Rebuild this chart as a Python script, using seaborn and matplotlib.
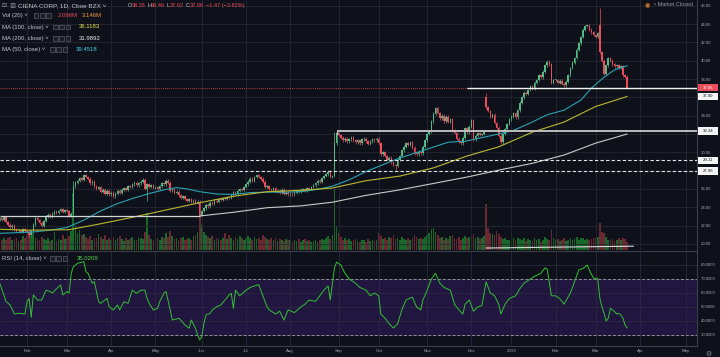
import numpy as np
import pandas as pd
import matplotlib
matplotlib.use('Agg')
import matplotlib.pyplot as plt
from matplotlib.patches import Rectangle
import seaborn as sns

# CIEN daily closes, one list per month (Jan 12 2018 .. Mar 22 2019)
close_jan18 = [22.8, 22.6, 22.9, 22.4, 22.1, 21.8, 22.0, 21.6, 21.4, 21.5, 21.3, 21.6, 21.4]
close_feb18 = [21.3, 21.0, 21.4, 22.1, 22.8, 22.6, 22.3, 22.0, 22.5, 23.0, 23.2, 23.0, 23.3, 23.5, 23.4, 23.6, 23.8, 23.5, 23.7]
close_mar18 = [23.6, 23.1, 23.3, 26.3, 26.7, 26.9, 27.2, 27.0, 27.5, 27.3, 27.1, 26.6, 26.8, 26.3, 26.0, 26.2, 25.7, 25.9, 25.5, 25.8, 25.4]
close_apr18 = [25.6, 25.2, 25.5, 25.8, 25.6, 25.9, 26.1, 25.9, 26.3, 26.2, 26.5, 26.7, 26.4, 26.6, 26.8, 27.0, 26.0, 26.5, 26.2, 26.4, 26.1]
close_may18 = [26.2, 26.0, 26.3, 26.6, 26.5, 26.9, 26.7, 25.8, 26.0, 25.6, 25.7, 25.3, 25.0, 25.2, 24.9, 24.7, 24.9, 24.6, 24.7, 24.5, 24.6, 23.2]
close_jun18 = [23.6, 23.9, 24.3, 24.1, 24.5, 24.4, 24.7, 24.6, 24.9, 24.8, 25.0, 24.9, 25.1, 25.0, 25.3, 25.6, 25.4, 25.8, 26.0, 25.9, 26.2]
close_jul18 = [26.5, 26.8, 27.1, 26.9, 27.3, 27.5, 27.3, 27.1, 26.8, 26.2, 26.3, 26.0, 25.9, 26.1, 25.7, 25.8, 25.6, 25.9, 25.5, 25.6, 25.4]
close_aug18 = [25.5, 25.4, 25.6, 25.8, 25.7, 25.9, 26.0, 25.8, 26.1, 26.0, 26.2, 26.4, 26.6, 26.9, 26.8, 27.2, 27.4, 27.6, 27.9, 27.3, 27.4, 31.0, 32.1]
close_sep18 = [31.9, 31.6, 31.3, 31.5, 31.2, 31.4, 31.6, 31.3, 31.1, 31.3, 31.0, 31.4, 31.5, 31.2, 30.9, 31.2, 31.4, 31.3, 31.5]
close_oct18 = [31.0, 29.8, 30.0, 29.6, 29.2, 29.4, 28.9, 28.6, 28.5, 29.2, 29.6, 30.2, 30.6, 31.0, 30.8, 31.1, 30.5, 29.9, 29.8, 30.0, 29.9, 30.6, 31.3]
close_nov18 = [32.0, 32.3, 33.4, 34.2, 34.8, 34.3, 33.7, 34.0, 33.4, 33.9, 33.3, 33.6, 32.4, 32.1, 31.5, 31.2, 31.0, 31.6, 32.6, 32.2, 32.8]
close_dec18 = [33.5, 31.4, 31.8, 32.1, 31.9, 32.0, 32.3, 34.9, 34.5, 33.9, 34.1, 33.2, 32.7, 31.8, 31.1, 32.0, 32.5, 33.1, 33.6]
close_jan19 = [33.9, 34.3, 33.8, 34.6, 35.4, 36.0, 36.5, 36.4, 36.8, 37.2, 37.0, 37.6, 37.9, 38.4, 38.2, 38.8, 39.5, 39.9, 39.6, 37.6, 37.9]
close_feb19 = [37.9, 37.6, 37.8, 37.5, 37.3, 37.7, 38.4, 39.2, 39.8, 40.3, 41.2, 41.9, 42.6, 43.4, 43.8, 43.9, 43.4, 43.1, 42.8]
close_mar19 = [42.6, 43.0, 40.9, 40.0, 38.6, 39.5, 40.3, 40.0, 39.6, 39.4, 39.5, 39.2, 39.4, 38.4, 38.26, 37.06]

# volume in millions, same bars
vol_jan18 = [2.8, 2.5, 3.1, 2.6, 2.9, 3.3, 2.4, 2.7, 3.0, 2.2, 2.6, 3.4, 2.9]
vol_feb18 = [3.8, 4.6, 3.5, 4.2, 3.1, 2.8, 2.5, 3.2, 2.7, 2.4, 2.9, 2.2, 2.6, 4.5, 2.3, 2.8, 2.5, 3.6, 2.7]
vol_mar18 = [2.9, 3.4, 4.8, 14.2, 6.1, 4.3, 4.9, 3.6, 3.9, 3.2, 2.8, 3.5, 2.6, 3.1, 2.9, 4.0, 3.3, 2.7, 3.6, 2.5, 3.0]
vol_apr18 = [2.6, 3.2, 2.4, 2.9, 3.5, 2.7, 2.2, 3.0, 2.5, 2.8, 3.3, 2.6, 2.4, 2.9, 3.1, 2.7, 4.4, 9.2, 3.6, 2.8, 2.5]
vol_may18 = [2.7, 3.0, 2.4, 3.3, 2.9, 4.1, 3.2, 4.6, 3.4, 2.8, 3.1, 2.6, 2.9, 3.3, 2.5, 2.7, 3.0, 2.6, 3.4, 3.8, 4.4, 8.6]
vol_jun18 = [6.2, 4.5, 3.8, 3.3, 2.9, 3.4, 2.6, 3.1, 2.8, 2.5, 3.0, 4.2, 2.7, 3.6, 2.9, 2.6, 3.2, 2.8, 3.5, 3.0, 2.6]
vol_jul18 = [2.9, 3.4, 3.1, 2.6, 3.3, 2.8, 3.0, 2.5, 3.7, 3.2, 2.7, 2.4, 2.9, 2.6, 3.1, 2.3, 2.8, 2.5, 2.2, 2.7, 2.4]
vol_aug18 = [2.5, 2.1, 2.6, 2.3, 2.8, 2.0, 2.4, 2.7, 2.2, 2.5, 1.9, 2.3, 2.6, 2.1, 2.4, 2.8, 2.5, 3.0, 3.4, 2.7, 3.8, 15.2, 5.8]
vol_sep18 = [4.1, 3.3, 2.6, 2.9, 2.4, 2.7, 2.2, 2.5, 2.8, 2.3, 2.1, 2.6, 2.4, 2.0, 2.7, 2.3, 2.5, 2.2, 2.6]
vol_oct18 = [4.2, 3.5, 2.8, 3.1, 2.6, 3.3, 2.9, 3.7, 2.7, 3.0, 2.6, 3.2, 2.8, 2.5, 2.9, 2.4, 3.1, 3.6, 3.2, 2.8, 3.0, 2.7, 3.3]
vol_nov18 = [3.6, 4.1, 5.2, 5.5, 4.4, 3.6, 2.9, 3.2, 2.6, 3.0, 2.7, 3.4, 3.8, 3.1, 2.8, 3.3, 2.6, 3.0, 3.5, 2.9, 3.2]
vol_dec18 = [3.6, 4.0, 3.1, 3.3, 2.7, 3.0, 3.4, 11.5, 5.5, 4.2, 4.0, 3.6, 4.8, 3.9, 3.2, 2.8, 3.1, 2.5, 2.4]
vol_jan19 = [2.6, 2.9, 2.4, 3.1, 2.8, 2.5, 3.0, 2.3, 2.7, 2.6, 2.2, 2.9, 2.4, 2.8, 2.1, 2.6, 3.2, 2.7, 2.5, 5.0, 3.0]
vol_feb19 = [2.4, 2.7, 2.2, 2.5, 2.9, 2.3, 2.6, 3.0, 2.4, 2.8, 3.2, 2.6, 2.9, 3.1, 2.5, 2.7, 2.4, 2.8, 3.0]
vol_mar19 = [2.9, 3.3, 6.8, 4.5, 4.3, 3.2, 2.6, 2.4, 2.8, 2.2, 2.5, 3.0, 2.6, 3.1, 2.7, 2.1]

first_bar = -13   # bar 0 = Feb 1 2018
gap_open = {-13: 22.6, 218: 36.0, 272: 43.9, 285: 38.26}
wick_high = {22: 26.9, 146: 32.2, 218: 36.5, 272: 45.7, 285: 38.46}
wick_low = {1: 20.8, 57: 24.7, 82: 23.0, 175: 28.1, 225: 30.9, 285: 37.02}

# moving averages as drawn (bar, value)
ma50_bar = [-13, 3, 11, 19, 27, 35, 43, 50, 58, 66, 71, 76, 82, 90, 98, 106, 114, 122, 130, 138,
            145, 153, 161, 176, 192, 200, 208, 216, 224, 231, 239, 247, 255, 263, 268, 274, 279, 285]
ma50_val = [21.15, 21.3, 21.5, 21.8, 22.6, 23.6, 24.4, 24.95, 25.5, 25.95, 26.15, 26.0, 25.7, 25.45, 25.4, 25.6, 25.65, 25.65, 25.7, 25.95,
            26.3, 27.0, 27.9, 29.3, 30.5, 31.1, 31.2, 31.6, 32.0, 32.4, 33.2, 34.1, 34.6, 35.7, 37.0, 38.2, 39.0, 39.45]
ma100_bar = [-13, 0, 20, 35, 50, 66, 82, 98, 114, 130, 145, 161, 177, 193, 209, 224, 232, 240, 255, 270, 285]
ma100_val = [21.6, 21.5, 21.55, 22.2, 22.9, 23.7, 24.5, 25.2, 25.7, 25.85, 26.1, 26.9, 27.4, 28.3, 29.6, 30.6, 31.4, 32.2, 33.3, 35.0, 36.1]
ma200_bar = [82, 98, 114, 130, 145, 161, 177, 193, 209, 225, 240, 255, 270, 285]
ma200_val = [23.05, 23.45, 23.95, 24.15, 24.55, 25.3, 25.9, 26.6, 27.3, 28.1, 28.8, 29.7, 31.0, 32.0]

# RSI(14) as drawn (bar, value)
rsi_bar = [-13, -12, -10, -8, -6, -4, -1, 0, 1, 2, 3, 5, 7, 9, 11, 12, 15, 16, 17, 19,
           20, 21, 22, 24, 27, 28, 29, 31, 32, 34, 35, 38, 39, 41, 43, 44, 46, 48, 50, 52,
           54, 56, 57, 58, 60, 62, 63, 65, 66, 68, 69, 72, 73, 75, 77, 78, 80, 81, 82, 83,
           84, 85, 87, 88, 90, 92, 94, 96, 97, 98, 99, 101, 104, 106, 108, 110, 112, 114, 115, 118,
           120, 122, 124, 127, 130, 132, 134, 137, 139, 141, 143, 144, 146, 147, 149, 151, 153, 156, 158, 161,
           163, 165, 167, 168, 170, 172, 174, 176, 178, 180, 183, 185, 187, 188, 190, 192, 194, 196, 198, 201,
           203, 205, 207, 208, 210, 212, 214, 216, 218, 220, 222, 224, 225, 227, 229, 232, 234, 236, 239, 241,
           244, 246, 247, 249, 251, 253, 255, 258, 260, 262, 264, 266, 267, 269, 271, 272, 273, 274, 275, 276,
           277, 278, 279, 280, 281, 282, 283, 284, 285]
rsi_val = [67, 63, 54, 51.4, 45, 45.5, 45, 53.8, 56, 42.6, 58.6, 55, 55, 62, 61, 60, 64.5, 65.7, 58.6, 61,
           60, 74, 78.8, 81.2, 82.4, 75.2, 74, 67, 68.1, 53.8, 52.6, 56.2, 50.2, 47.9, 51.4, 47.9, 53.8, 52.6, 62, 59.8,
           62, 62, 56.2, 52.6, 47.9, 49, 53.8, 59.8, 61, 47.9, 40.7, 41.9, 40.7, 37.1, 34.8, 40.7, 34.8, 30, 26.4, 29,
           38.3, 44.3, 45.5, 47.9, 50.2, 51.4, 55, 58.6, 59.8, 49, 62, 58, 62, 64, 65, 66, 58, 50, 48, 45,
           47, 40.7, 48, 46, 50, 52, 55, 54, 58, 62, 65, 55, 78, 82, 80, 74, 70, 67, 64, 62,
           58, 60, 58, 45, 42, 38, 35, 38, 48, 55, 57, 50, 48, 55, 62, 70, 74, 67, 64, 62,
           52, 48, 45, 52, 55, 47, 50, 51, 68, 60, 58, 52, 45, 52, 56, 58, 63, 67, 70, 72,
           74, 78, 77, 58, 58, 56, 52, 60, 68, 76.4, 77.5, 80, 76.4, 70.5, 70.5, 56.2, 50.2, 45.5, 40, 41.9,
           49, 47.9, 46.7, 45, 45.5, 44.3, 41.9, 37.1, 35.0]

month_labels = ['Feb', 'Mar', 'Apr', 'May', 'Jun', 'Jul', 'Aug', 'Sep', 'Oct', 'Nov', 'Dec', '2019', 'Feb', 'Mar', 'Apr', 'May']
month_days = [19, 21, 21, 22, 21, 21, 23, 19, 23, 21, 19, 21, 19, 21, 22]

# drawn levels
last_price = 37.06
level_37 = (37.00, 209)          # price, start bar
level_3234 = (32.34, 147)
levels_dashed = [29.11, 27.96]
level_23 = (23.05, 82)           # price, end bar
trend_low = ([218, 288], [19.55, 19.75])

closes = (close_jan18 + close_feb18 + close_mar18 + close_apr18 + close_may18 + close_jun18 + close_jul18
          + close_aug18 + close_sep18 + close_oct18 + close_nov18 + close_dec18 + close_jan19 + close_feb19 + close_mar19)
vols = (vol_jan18 + vol_feb18 + vol_mar18 + vol_apr18 + vol_may18 + vol_jun18 + vol_jul18
        + vol_aug18 + vol_sep18 + vol_oct18 + vol_nov18 + vol_dec18 + vol_jan19 + vol_feb19 + vol_mar19)

df = pd.DataFrame({'bar': np.arange(first_bar, first_bar + len(closes)), 'close': closes, 'volume': vols})
df['open'] = df['close'].shift(1)
for b, v in gap_open.items():
    df.loc[df.bar == b, 'open'] = v
df['high'] = df[['open', 'close']].max(axis=1) + 0.15
df['low'] = df[['open', 'close']].min(axis=1) - 0.15
for b, v in wick_high.items():
    df.loc[df.bar == b, 'high'] = v
for b, v in wick_low.items():
    df.loc[df.bar == b, 'low'] = v
df['up'] = df.close >= df.open

month_pos = np.concatenate([[0], np.cumsum(month_days)])

bg = '#0f111a'
up_c, dn_c = '#53b987', '#eb4d5c'
grid_c = '#252833'
axis_txt = '#a3a6af'
sns.set_theme(style='dark', rc={'axes.facecolor': bg, 'figure.facecolor': bg})
plt.rcParams['font.family'] = ['Liberation Sans', 'DejaVu Sans']

fig = plt.figure(figsize=(7.2, 3.57), dpi=100)
main_rect = [0, 107/357, 697/720, 250/357]
ax_vol = fig.add_axes(main_rect, label='vol')
ax = fig.add_axes(main_rect, label='price')
ax_rsi = fig.add_axes([0, 11/357, 697/720, 95/357])
ax.patch.set_visible(False)

xlim = (-12.82, 318.14)

# volume
ax_vol.grid(False)
for flag, col in [(True, '#18682a'), (False, '#6a2832')]:
    d = df[df.up == flag]
    ax_vol.bar(d.bar, d.volume, width=0.8, color=col, lw=0)
ax_vol.set_xlim(xlim)
ax_vol.set_ylim(0, 62)
ax_vol.set_xticks([]); ax_vol.set_yticks([])
for s in ax_vol.spines.values():
    s.set_visible(False)

# candles
for flag, col in [(True, up_c), (False, dn_c)]:
    d = df[df.up == flag]
    ax.vlines(d.bar, d.low, d.high, color=col, lw=0.5, zorder=3)
    body = (d.close - d.open).abs().clip(lower=0.05)
    ax.bar(d.bar, body, bottom=d[['open', 'close']].min(axis=1), width=0.72, color=col, lw=0, zorder=3)

sns.lineplot(x=ma50_bar, y=ma50_val, ax=ax, color='#2aa2b2', lw=0.8, zorder=4)
sns.lineplot(x=ma100_bar, y=ma100_val, ax=ax, color='#b9b832', lw=0.8, zorder=4)
sns.lineplot(x=ma200_bar, y=ma200_val, ax=ax, color='#c9c9c9', lw=0.8, zorder=4)

ax.axhline(last_price, color=dn_c, lw=0.6, ls=(0, (1, 1.5)), zorder=2)
ax.hlines(level_37[0], level_37[1], xlim[1], color='#f2f2f2', lw=1.0, zorder=5)
ax.hlines(level_3234[0], level_3234[1], xlim[1], color='#bdbdbd', lw=1.4, zorder=5)
ax.vlines(level_3234[1], level_3234[0] - 0.45, level_3234[0], color='#bdbdbd', lw=1.0, zorder=5)
for lv in levels_dashed:
    ax.axhline(lv, color='#e6e6e6', lw=0.8, ls=(0, (3, 2)), zorder=5)
ax.hlines(level_23[0], xlim[0], level_23[1], color='#d4d4d4', lw=0.9, zorder=5)
ax.plot(trend_low[0], trend_low[1], color='#d8d8d8', lw=0.8, zorder=5)

price_ticks = np.arange(20, 47, 2)
ax.set_xlim(xlim)
ax.set_ylim(19.334, 46.627)
ax.set_xlabel(''); ax.set_ylabel('')
ax.set_yticks(price_ticks)
# 28.00 and 36.00 sit under the level boxes on the scale
ax.set_yticklabels(['' if v in (28, 36) else f'{v:.2f}' for v in price_ticks])
ax.yaxis.tick_right()
ax.set_xticks(month_pos)
ax.tick_params(axis='x', labelbottom=False, length=0)
ax.tick_params(axis='y', labelsize=3.1, colors=axis_txt, length=0, pad=3)
ax.grid(True, color=grid_c, lw=0.6)

# RSI pane
ax_rsi.axhspan(30, 70, color='#21163f', lw=0, zorder=0.2)
sns.lineplot(x=rsi_bar, y=rsi_val, ax=ax_rsi, color='#33c033', lw=0.7, zorder=4)
for lv in [70, 30]:
    ax_rsi.axhline(lv, color='#8f8f9c', lw=0.7, ls=(0, (3, 2)), zorder=3)
ax_rsi.set_xlim(xlim)
ax_rsi.set_ylim(22.14, 90)
ax_rsi.set_xlabel(''); ax_rsi.set_ylabel('')
ax_rsi.set_yticks(np.arange(30, 81, 10))
ax_rsi.set_yticklabels([f'{v:.4f}' for v in np.arange(30, 81, 10)])
ax_rsi.yaxis.tick_right()
ax_rsi.set_xticks(month_pos)
ax_rsi.set_xticklabels(month_labels)
ax_rsi.tick_params(axis='y', labelsize=3.1, colors=axis_txt, length=0, pad=3)
ax_rsi.tick_params(axis='x', labelsize=3.2, colors=axis_txt, length=0, pad=2.5)
ax_rsi.grid(True, color='#2c2740', lw=0.6)

for a in (ax, ax_rsi):
    for s in a.spines.values():
        s.set_visible(False)
    a.spines['right'].set_visible(True)
    a.spines['right'].set_color('#3a3e4a')
    a.spines['right'].set_linewidth(0.8)
for k in ('top', 'bottom'):
    ax_rsi.spines[k].set_visible(True)
    ax_rsi.spines[k].set_color('#3a3e4a')
    ax_rsi.spines[k].set_linewidth(0.8)

# price-scale label boxes
def scale_box(price, text, fc, tc):
    tr = ax.get_yaxis_transform()
    ax.add_patch(Rectangle((1.0015, price - 0.4), 0.029, 0.8, transform=tr, fc=fc, ec='none',
                           clip_on=False, zorder=20))
    ax.text(1.0158, price, text, transform=tr, ha='center', va='center', fontsize=3.1,
            color=tc, clip_on=False, zorder=21)

scale_box(level_3234[0], '32.34', '#f4f4f4', '#131722')
for lv in levels_dashed:
    scale_box(lv, f'{lv:.2f}', '#f4f4f4', '#131722')
scale_box(level_37[0] - 0.9, '37.00', '#f4f4f4', '#131722')
scale_box(last_price, f'{last_price:.2f}', dn_c, 'white')

# legend texts
def ftxt(x, y, s, color, size=4.3):
    fig.text(x/720, 1 - y/357, s, color=color, fontsize=size, ha='left', va='center')

def icons(x0, y):
    for k in range(3):
        fig.add_artist(Rectangle(((x0 + k*6.3)/720, 1 - (y + 2.4)/357), 4.8/720, 4.8/357,
                                 transform=fig.transFigure, fc='#1b1e29', ec='#6a6e7a', lw=0.4))

lab = '#c6c8cf'
ftxt(2, 5.8, '⊟  ▥', '#9598a1', 4.3)
ftxt(18, 5.8, 'CIENA CORP, 1D, Cboe BZX ˅', lab, 4.6)
for x, s, c in [(127.5, 'O', lab), (131.5, '38.26', dn_c), (147, 'H', lab), (151.2, '38.46', dn_c),
                (166.7, 'L', lab), (170, '37.02', dn_c), (185.3, 'C', lab), (189.3, '37.06', dn_c),
                (205.5, '−1.47 (−3.82%)', dn_c)]:
    ftxt(x, 5.8, s, c, 4.0)

ftxt(2, 15.7, 'Vol (20) ˅', lab); icons(33.5, 15.7)
ftxt(57.5, 15.7, '2.096M', dn_c); ftxt(81.5, 15.7, '3.146M', '#f0943c')
ftxt(2, 27, 'MA (100, close) ˅', lab); icons(53, 27); ftxt(79, 27, '36.1183', '#e4e44a')
ftxt(2, 38.3, 'MA (200, close) ˅', lab); icons(53, 38.3); ftxt(79, 38.3, '31.9892', '#ececec')
ftxt(2, 49.3, 'MA (50, close) ˅', lab); icons(50, 49.3); ftxt(76, 49.3, '39.4518', '#3acfe0')
ftxt(2, 258.3, 'RSI (14, close) ˅', lab); icons(50, 258.3); ftxt(76.5, 258.3, '35.0209', '#4fd44f')

ftxt(645, 4.5, '◉', '#e07b28', 4.3)
ftxt(654, 4.5, '• Market Closed', '#9598a1', 4.0)
ftxt(705, 354, '⚙', '#8a8d96', 5.0)

fig.savefig('out.png', dpi=100, facecolor=bg)
